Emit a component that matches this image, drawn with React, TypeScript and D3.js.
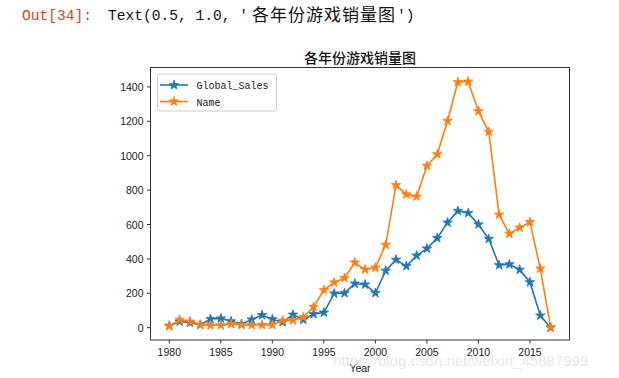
import React from "react";
import * as d3 from "d3";

const years = [1980,1981,1982,1983,1984,1985,1986,1987,1988,1989,1990,1991,1992,1993,1994,1995,1996,1997,1998,1999,2000,2001,2002,2003,2004,2005,2006,2007,2008,2009,2010,2011,2012,2013,2014,2015,2016,2017];
const globalSales = [11.38,35.77,28.86,16.79,50.36,53.94,37.07,21.74,47.22,73.45,49.39,32.23,76.16,45.98,79.17,88.11,199.15,200.98,256.47,251.27,201.56,331.47,395.52,357.85,419.31,459.94,521.04,611.13,678.90,667.30,600.45,515.99,363.54,368.11,337.05,264.44,70.93,0.05];
const nameCounts = [9,46,36,17,14,14,21,16,15,17,16,41,43,60,121,219,263,289,379,338,349,482,829,775,763,941,1008,1202,1428,1431,1259,1139,657,546,582,614,344,3];
const xTicks = [1980,1985,1990,1995,2000,2005,2010,2015];
const yTicks = [0,200,400,600,800,1000,1200,1400];
const seriesNames = ["Global_Sales","Name"];
const colors = ["#1f77b4","#ff7f0e"];

export default function App() {
  const left = 150.5, right = 569.5, top = 67.5, bottom = 340;
  const x = d3.scaleLinear().domain([1980, 2015]).range([169.3, 530.0]);
  const y = d3.scaleLinear().domain([0, 1400]).range([327.7, 86.9]);
  const line = d3.line<number>().x((_, i) => x(years[i])).y((d) => y(d));
  const star = d3.symbol().type(d3.symbolStar).size(28)() as string;
  const series = [globalSales, nameCounts];
  const tickFont = "'Liberation Sans', Arial, sans-serif";
  return (
    <svg width={619} height={378} style={{ position: "absolute", left: 0, top: 0, background: "#fff" }}>
      <text x={22} y={20} fontFamily="'Liberation Mono', 'DejaVu Sans Mono', monospace" fontSize={14.6} fill="#D84315">Out[34]:</text>
      <text x={108} y={20} fontFamily="'Liberation Mono', 'DejaVu Sans Mono', monospace" fontSize={14.6} fill="#111">Text(0.5, 1.0, '</text>
      <text x={252} y={20.5} fontFamily="'Noto Sans CJK SC', sans-serif" fontSize={17} letterSpacing={1} fill="#111">各年份游戏销量图</text>
      <text x={397} y={20} fontFamily="'Liberation Mono', 'DejaVu Sans Mono', monospace" fontSize={14.6} fill="#111">')</text>

      <text x={(left + right) / 2} y={63} textAnchor="middle" fontFamily="'Noto Sans CJK SC', sans-serif" fontSize={14} fontWeight={500} fill="#111">各年份游戏销量图</text>

      {series.map((s, k) => (
        <g key={k}>
          <path d={line(s) as string} fill="none" stroke={colors[k]} strokeWidth={1.6} />
          {s.map((v, i) => (
            <path key={i} d={star} transform={`translate(${x(years[i])},${y(v)})`} fill={colors[k]} stroke={colors[k]} strokeWidth={0.8} />
          ))}
        </g>
      ))}

      <rect x={left} y={top} width={right - left} height={bottom - top} fill="none" stroke="#333" strokeWidth={1} />

      {yTicks.map((t) => (
        <g key={t}>
          <line x1={left - 3.5} x2={left} y1={y(t)} y2={y(t)} stroke="#333" />
          <text x={left - 7} y={y(t) + 4} textAnchor="end" fontFamily={tickFont} fontSize={10.5} fill="#222">{t}</text>
        </g>
      ))}
      {xTicks.map((t) => (
        <g key={t}>
          <line x1={x(t)} x2={x(t)} y1={bottom} y2={bottom + 3.5} stroke="#333" />
          <text x={x(t)} y={bottom + 16} textAnchor="middle" fontFamily={tickFont} fontSize={10.5} fill="#222">{t}</text>
        </g>
      ))}
      <text x={(left + right) / 2} y={372} textAnchor="middle" fontFamily={tickFont} fontSize={10.5} fill="#222">Year</text>

      <rect x={157.5} y={74} width={119} height={37} rx={2.5} fill="#fff" fillOpacity={0.8} stroke="#ccc" />
      {seriesNames.map((n, k) => (
        <g key={n}>
          <line x1={160} x2={188} y1={85 + k * 16.5} y2={85 + k * 16.5} stroke={colors[k]} strokeWidth={1.6} />
          <path d={star} transform={`translate(174,${85 + k * 16.5})`} fill={colors[k]} stroke={colors[k]} strokeWidth={0.8} />
          <text x={196.5} y={89 + k * 16.5} fontFamily="'Liberation Mono', monospace" fontSize={10} fill="#222">{n}</text>
        </g>
      ))}

      <text x={333} y={366} fontFamily="'Liberation Sans', Arial, sans-serif" fontSize={15} fill="#dcdcdc" fillOpacity={0.7}>https://blog.csdn.net/weixin_45887999</text>
    </svg>
  );
}
